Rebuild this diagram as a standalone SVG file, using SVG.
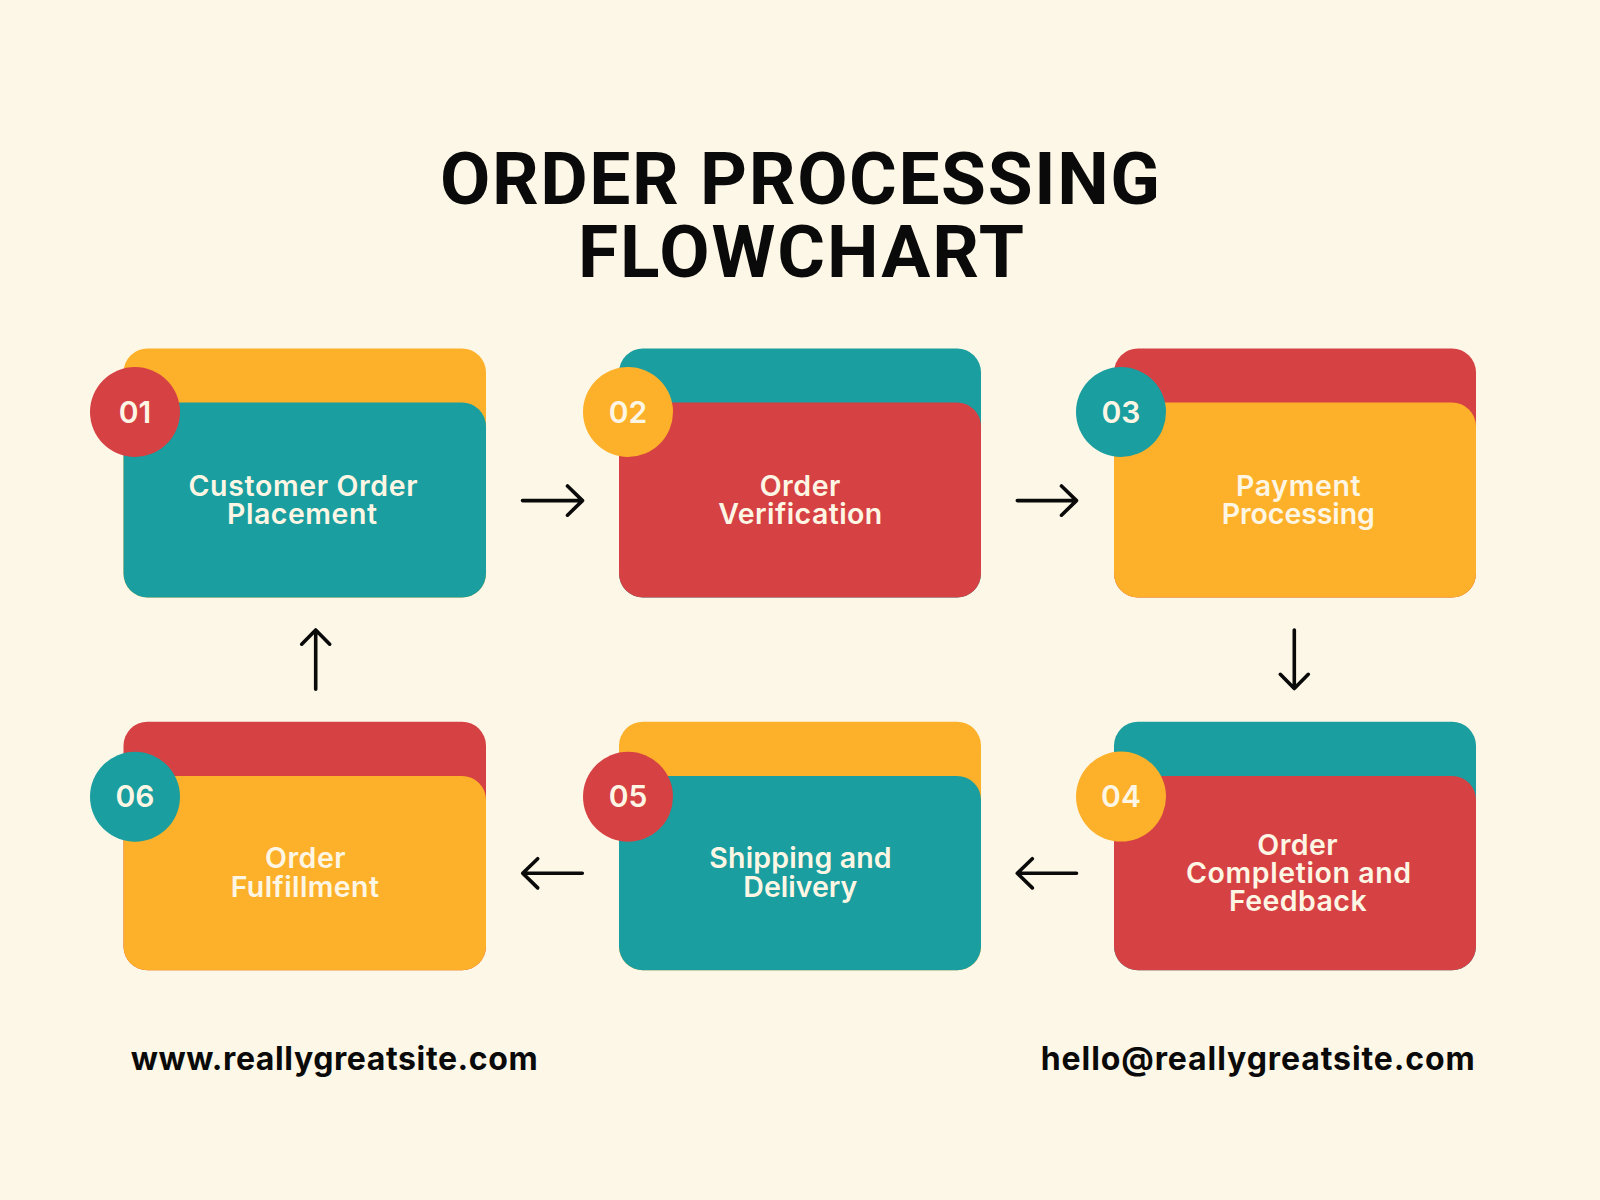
<svg xmlns="http://www.w3.org/2000/svg" width="1600" height="1200" viewBox="0 0 1600 1200">
  <defs>
    <style>
      .teal { fill: #1A9E9F; }
      .red { fill: #D64144; }
      .yellow { fill: #FDB12A; }
      .title { font-family: Roboto, "Liberation Sans", sans-serif; font-weight: 700; font-size: 73px; fill: #0A0A0A; }
      .label { font-family: Inter, "Liberation Sans", sans-serif; font-weight: 600; font-size: 28.5px; fill: #FEF6E4; text-anchor: middle; }
      .num { font-family: Inter, "Liberation Sans", sans-serif; font-weight: 600; font-size: 30px; fill: #FEF6E4; text-anchor: middle; }
      .foot { font-family: Inter, "Liberation Sans", sans-serif; font-weight: 700; font-size: 32px; fill: #0A0A0A; }
      .conn { fill: none; stroke: #0A0A0A; stroke-width: 3.6; stroke-linecap: round; stroke-linejoin: round; }
    </style>
  </defs>
  <rect x="0" y="0" width="1600" height="1200" fill="#FDF7E7"/>

  <g id="title">
    <text class="title" x="800" y="204" text-anchor="middle" textLength="720">ORDER PROCESSING</text>
    <text class="title" x="801" y="276.7" text-anchor="middle" textLength="446">FLOWCHART</text>
  </g>

  <g id="node-01">
    <rect class="yellow" x="123.5" y="348.5" width="362.5" height="249" rx="24"/>
    <rect class="teal" x="123.5" y="402.5" width="362.5" height="195" rx="24"/>
    <circle class="red" cx="135" cy="412" r="45"/>
    <text class="num" x="135" y="423">01</text>
    <text class="label" x="303" y="496" textLength="229">Customer Order</text>
    <text class="label" x="302" y="524" textLength="150">Placement</text>
  </g>

  <g id="node-02">
    <rect class="teal" x="619" y="348.5" width="362" height="249" rx="24"/>
    <rect class="red" x="619" y="402.5" width="362" height="195" rx="24"/>
    <circle class="yellow" cx="628" cy="412" r="45"/>
    <text class="num" x="628" y="423">02</text>
    <text class="label" x="800" y="496" textLength="80.7">Order</text>
    <text class="label" x="800.3" y="524" textLength="164">Verification</text>
  </g>

  <g id="node-03">
    <rect class="red" x="1114" y="348.5" width="362" height="249" rx="24"/>
    <rect class="yellow" x="1114" y="402.5" width="362" height="195" rx="24"/>
    <circle class="teal" cx="1121" cy="412" r="45"/>
    <text class="num" x="1121" y="423">03</text>
    <text class="label" x="1298.3" y="495.5" textLength="124.7">Payment</text>
    <text class="label" x="1298.3" y="523.5" textLength="153.3">Processing</text>
  </g>

  <g id="node-04">
    <rect class="teal" x="1114" y="721.7" width="362" height="248.6" rx="24"/>
    <rect class="red" x="1114" y="776" width="362" height="194.3" rx="24"/>
    <circle class="yellow" cx="1121" cy="796.6" r="45"/>
    <text class="num" x="1121" y="806.8">04</text>
    <text class="label" x="1297.5" y="854.5" textLength="80.4">Order</text>
    <text class="label" x="1298.5" y="883" textLength="225">Completion and</text>
    <text class="label" x="1297.8" y="911" textLength="137.7">Feedback</text>
  </g>

  <g id="node-05">
    <rect class="yellow" x="619" y="721.7" width="362" height="248.6" rx="24"/>
    <rect class="teal" x="619" y="776" width="362" height="194.3" rx="24"/>
    <circle class="red" cx="628" cy="796.7" r="45"/>
    <text class="num" x="628" y="806.8">05</text>
    <text class="label" x="800.5" y="867.5" textLength="182.3">Shipping and</text>
    <text class="label" x="800.3" y="896.5" textLength="114">Delivery</text>
  </g>

  <g id="node-06">
    <rect class="red" x="123.5" y="721.7" width="362.5" height="248.6" rx="24"/>
    <rect class="yellow" x="123.5" y="776" width="362.5" height="194.3" rx="24"/>
    <circle class="teal" cx="135" cy="796.7" r="45"/>
    <text class="num" x="135" y="806.5">06</text>
    <text class="label" x="305.3" y="868" textLength="80.7">Order</text>
    <text class="label" x="304.8" y="896.5" textLength="148.3">Fulfillment</text>
  </g>

  <g id="connectors">
    <path class="conn" d="M522.5 500.6 H582.5 M567.5 486 L582.5 500.6 L567.5 515.2"/>
    <path class="conn" d="M1017.3 500.6 H1076.5 M1061.5 486 L1076.5 500.6 L1061.5 515.2"/>
    <path class="conn" d="M1294.3 630 V688.5 M1280.3 674.3 L1294.3 688.5 L1308.3 674.3"/>
    <path class="conn" d="M1076.5 873.3 H1017.3 M1032.3 858.7 L1017.3 873.3 L1032.3 887.9"/>
    <path class="conn" d="M582.3 873.3 H522.7 M537.7 858.7 L522.7 873.3 L537.7 887.9"/>
    <path class="conn" d="M315.7 689.3 V630 M301.7 644.2 L315.7 630 L329.7 644.2"/>
  </g>

  <g id="footer">
    <text class="foot" x="130.7" y="1070" textLength="407">www.reallygreatsite.com</text>
    <text class="foot" x="1040.8" y="1070" textLength="434">hello@reallygreatsite.com</text>
  </g>
</svg>
